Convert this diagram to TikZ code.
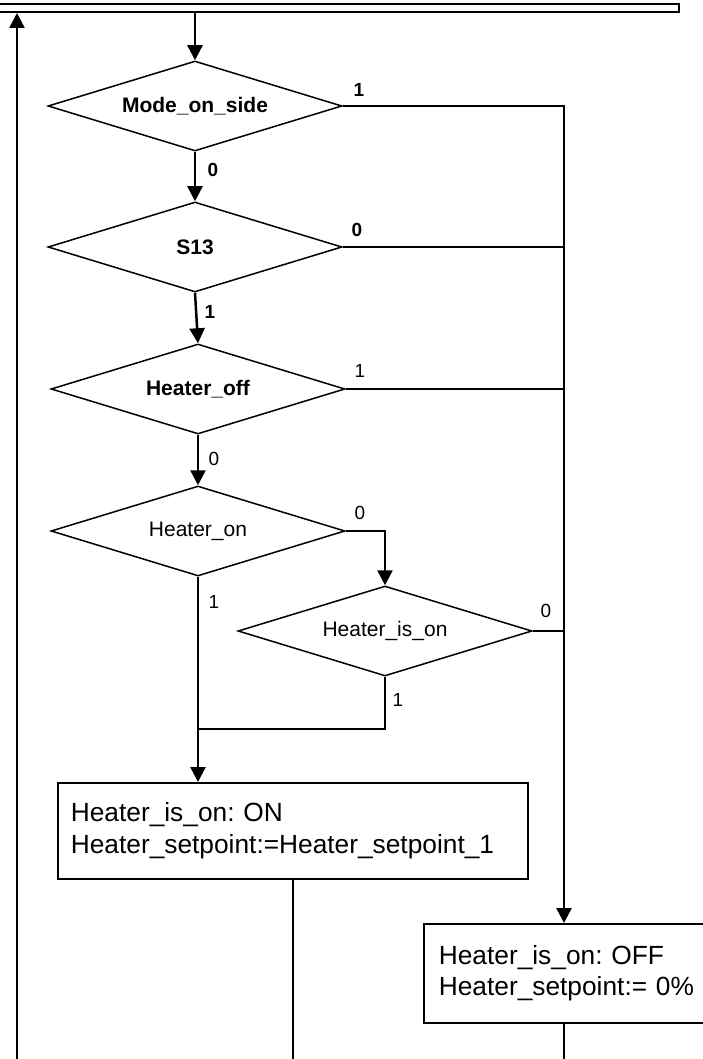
\documentclass[tikz,border=0pt]{standalone}
\usepackage{fontspec}
\setmainfont{Liberation Sans}
\usetikzlibrary{shapes.geometric,arrows.meta,calc}
\begin{document}
\frenchspacing
\begin{tikzpicture}[x=1pt,y=-1pt,
  dec/.style={diamond, draw, line width=1.5pt, aspect=3.27, inner sep=0pt,
    minimum width=294pt, minimum height=90pt, font=\fontsize{21}{24}\selectfont},
  decb/.style={dec, font=\fontsize{21}{24}\selectfont\bfseries},
  actbox/.style={draw, line width=1.7pt, anchor=north west, align=left,
    font=\fontsize{26.3}{31.5}\selectfont},
  conn/.style={line width=2.5pt},
  arr/.style={conn, -{Triangle[length=15pt,width=15pt]}},
  lbl/.style={font=\fontsize{19}{21}\selectfont, inner sep=0pt},
  blbl/.style={lbl, font=\fontsize{19}{21}\selectfont\bfseries}]
\useasboundingbox (0,0) rectangle (703,1059);
\clip (0,0) rectangle (703,1059);

% top bar
\node[draw, line width=2pt, anchor=north east, minimum width=700pt,
  minimum height=8pt, inner sep=0pt] (bar) at (680,3) {};

% decisions
\node[decb] (d1) at (195,106) {Mode\_on\_side};
\node[decb] (d2) at (195,247) {S13};
\node[decb] (d3) at (198,389) {Heater\_off};
\node[dec]  (d4) at (198,531) {Heater\_on};
\node[dec]  (d5) at (385,631) {Heater\_is\_on};

% action boxes
\node[actbox, minimum width=470pt, minimum height=96pt, text width=444pt,
  inner xsep=13pt] (onbox) at (57,782)
  {Heater\_is\_on: ON\\Heater\_setpoint:=Heater\_setpoint\_1};
\node[actbox, minimum width=300pt, minimum height=99pt, text width=270pt,
  inner xsep=15pt] (offbox) at (423,923)
  {Heater\_is\_on: OFF\\Heater\_setpoint:= 0\%};

% helper coordinates
\coordinate (rx) at (564,0);
\coordinate (bot) at (0,1062);
\coordinate (lb) at (17,1062);
\coordinate (j) at (198,729);

% connectors
\draw[arr] (lb) -- (lb |- bar.south);
\draw[arr] (d1.north |- bar.south) -- (d1.north);
\draw[arr] (d1.south) -- (d2.north);
\draw[arr] (d2.south) -- (d3.north);
\draw[arr] (d3.south) -- (d4.north);
\draw[arr] (d4.east) -- (d4.east -| d5.north) -- (d5.north);
\draw[arr] (d4.south) -- (d4.south |- onbox.north);
\draw[conn] (d5.south) -- (d5.south |- j) -- (j);
\draw[arr] (d1.east) -- (d1.east -| rx) -- (rx |- offbox.north);
\draw[conn] (d2.east) -- (d2.east -| rx);
\draw[conn] (d3.east) -- (d3.east -| rx);
\draw[conn] (d5.east) -- (d5.east -| rx);
\draw[conn] (onbox.south) -- (onbox.south |- bot);
\draw[conn] (rx |- offbox.south) -- (rx |- bot);

% labels
\node[blbl] (l1) at (359,90) {1};
\node[blbl] (l2) at (213,170) {0};
\node[blbl] (l3) at (357,230) {0};
\node[blbl] (l4) at (210,312) {1};
\node[lbl] (l5) at (360,371) {1};
\node[lbl] (l6) at (214,459) {0};
\node[lbl] (l7) at (360,513) {0};
\node[lbl] (l8) at (214,602) {1};
\node[lbl] (l9) at (546,611) {0};
\node[lbl] (l10) at (398,700) {1};
\end{tikzpicture}
\end{document}
